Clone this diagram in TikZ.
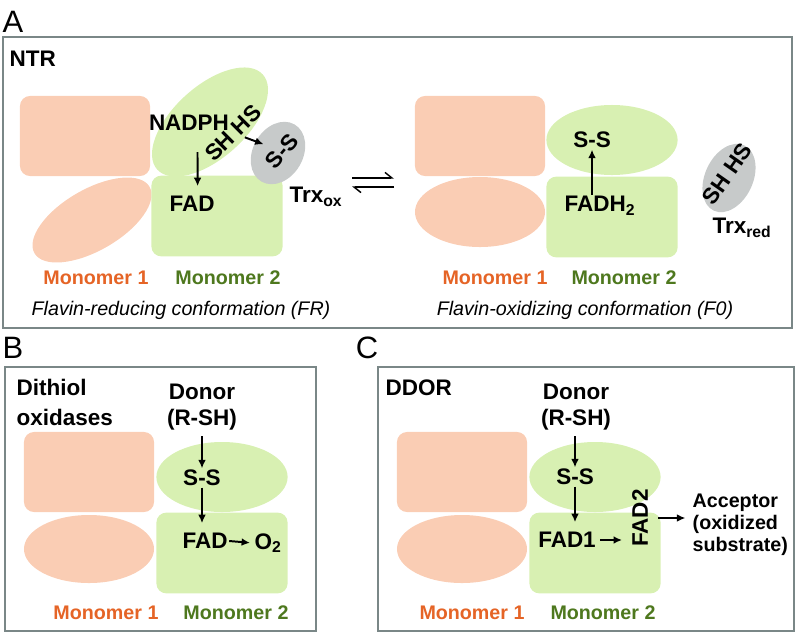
\documentclass[tikz,border=0pt]{standalone}
\usepackage{fontspec}
\setmainfont{Liberation Sans}
\usetikzlibrary{shapes.geometric,arrows.meta}

\definecolor{salmonfill}{RGB}{250,205,180}
\definecolor{leaffill}{RGB}{216,240,178}
\definecolor{trxgrey}{RGB}{199,202,202}
\definecolor{framegrey}{RGB}{122,135,135}
\definecolor{monoonecol}{RGB}{229,100,38}
\definecolor{monotwocol}{RGB}{78,120,30}

\begin{document}
\begin{tikzpicture}[x=0.025cm,y=-0.025cm]
    % Stili
    \tikzstyle{box}=[draw=framegrey, line width=2pt]
    \tikzstyle{panel}=[font=\fontsize{22}{24}\selectfont, inner sep=0pt]
    \tikzstyle{chem}=[font=\fontsize{16}{16}\selectfont\bfseries, inner sep=1pt]
    \tikzstyle{monoone}=[font=\fontsize{14}{16}\selectfont\bfseries, text=monoonecol]
    \tikzstyle{monotwo}=[font=\fontsize{14}{16}\selectfont\bfseries, text=monotwocol]
    \tikzstyle{conf}=[font=\fontsize{14}{16}\selectfont\itshape]
    \tikzstyle{subrect1}=[fill=salmonfill, rounded corners=0.25cm, minimum width=3.25cm, minimum height=2cm]
    \tikzstyle{subell1}=[ellipse, fill=salmonfill, minimum width=3.25cm, minimum height=1.75cm, inner sep=0pt]
    \tikzstyle{subrect2}=[fill=leaffill, rounded corners=0.25cm, minimum width=3.28cm, minimum height=2.02cm]
    \tikzstyle{subell2}=[ellipse, fill=leaffill, minimum width=3.28cm, minimum height=1.75cm, inner sep=0pt]
    \tikzstyle{trx}=[ellipse, fill=trxgrey, inner sep=0pt]
    \tikzstyle{reaction}=[-{Latex[length=6pt,width=5.5pt]}, line width=1.4pt]
    \tikzstyle{equil}=[-{Straight Barb[harpoon,length=5pt,width=8pt]}, line width=1pt]

    \useasboundingbox (0,0) rectangle (796,633);

    % Pannello A
    \node[panel] (lblA) at (13,22) {A};
    \draw[box] (3,37) rectangle (792,328);
    \node[chem, anchor=west] (ntr) at (8,59) {NTR};

    % Conformazione FR
    \node[subrect1] (m1rectFR) at (85,136) {};
    \node[subell1, rotate=30, minimum width=3.32cm, minimum height=1.53cm] (m1ellFR) at (92,220) {};
    \node[subell2, rotate=42, minimum width=3.55cm, minimum height=1.8cm] (m2ellFR) at (210,122) {};
    \node[subrect2] (m2rectFR) at (217,216) {};
    \node[trx, rotate=60, minimum width=1.65cm, minimum height=1.25cm] (trxoxell) at (278,153) {};

    \node[chem] (nadph) at (189,123) {NADPH};
    \node[chem, rotate=45] (shhsFR) at (233,133) {SH HS};
    \node[chem, rotate=50] (ssox) at (282,151) {S-S};
    \node[chem] (fadFR) at (192,204) {FAD};
    \node[chem] (trxox) at (316,197) {Trx\textsubscript{ox}};
    \node[monoone] (m1FR) at (96,278) {Monomer 1};
    \node[monotwo] (m2FR) at (228,278) {Monomer 2};
    \node[conf] (confFR) at (181,310) {Flavin-reducing conformation (FR)};

    \draw[reaction, shorten <=14pt, shorten >=6pt] ([xshift=6pt]nadph.south) -- ([xshift=4pt]fadFR.north);
    \draw[reaction, shorten <=9pt, shorten >=14pt] (shhsFR.center) -- (ssox.center);

    % Equilibrio
    \coordinate (eqL1) at (352,178);
    \coordinate (eqR1) at (394,178);
    \coordinate (eqL2) at (352,187);
    \coordinate (eqR2) at (394,187);
    \draw[equil] (eqL1) -- (eqR1);
    \draw[equil] (eqR2) -- (eqL2);

    % Conformazione FO
    \node[subrect1] (m1rectFO) at (480,136) {};
    \node[subell1] (m1ellFO) at (480,212) {};
    \node[subell2] (m2ellFO) at (612,140) {};
    \node[subrect2] (m2rectFO) at (612,217) {};
    \node[trx, rotate=65, minimum width=1.8cm, minimum height=1.2cm] (trxredell) at (729,178) {};

    \node[chem] (ssFO) at (592,140) {S-S};
    \node[chem] (fadhFO) at (600,206) {FADH\textsubscript{2}};
    \node[chem, rotate=55] (shhsFO) at (727,174) {SH HS};
    \node[chem] (trxred) at (742,228) {Trx\textsubscript{red}};
    \node[monoone] (m1FO) at (495,278) {Monomer 1};
    \node[monotwo] (m2FO) at (624,278) {Monomer 2};
    \node[conf] (confFO) at (585,310) {Flavin-oxidizing conformation (F0)};

    \draw[reaction] (fadhFO.north -| ssFO) -- (ssFO.south);

    % Pannello B
    \node[panel] (lblB) at (13,348) {B};
    \draw[box] (5,367) rectangle (316,631);
    \node[chem, align=left, anchor=north west] (dithiol) at (15,378) {Dithiol\\[5pt]oxidases};

    \node[subrect1] (m1rectB) at (89,472) {};
    \node[subell1, minimum height=1.7cm] (m1ellB) at (89,549) {};
    \node[subell2] (m2ellB) at (222,477) {};
    \node[subrect2] (m2rectB) at (222,553) {};

    \node[chem, align=center] (donorB) at (202,407) {Donor\\[3pt](R-SH)};
    \node[chem] (ssB) at (202,478) {S-S};
    \node[chem] (fadB) at (205,541) {FAD};
    \node[chem] (otwoB) at (268,543) {O\textsubscript{2}};
    \node[monoone] (m1B) at (106,613) {Monomer 1};
    \node[monotwo] (m2B) at (236,613) {Monomer 2};

    \draw[reaction, shorten <=3pt] (donorB.south -| ssB) -- (ssB.north);
    \draw[reaction, shorten >=6pt] (ssB.south) -- (ssB.south |- fadB.north);
    \draw[reaction, shorten >=2pt] (fadB.east) -- (otwoB.west);

    % Pannello C
    \node[panel] (lblC) at (367,348) {C};
    \draw[box] (378,367) rectangle (794,631);
    \node[chem, anchor=west] (ddor) at (384,388) {DDOR};

    \node[subrect1] (m1rectC) at (462,472) {};
    \node[subell1, minimum height=1.7cm] (m1ellC) at (462,549) {};
    \node[subell2] (m2ellC) at (595,477) {};
    \node[subrect2] (m2rectC) at (595,553) {};

    \node[chem, align=center] (donorC) at (576,407) {Donor\\[3pt](R-SH)};
    \node[chem] (ssC) at (575,477) {S-S};
    \node[chem] (fadoneC) at (567,540) {FAD1};
    \node[chem, rotate=90] (fadtwoC) at (640,518) {FAD2};
    \node[chem, font=\fontsize{14}{15.5}\selectfont\bfseries, align=left, anchor=west] (acceptC) at (691,525) {Acceptor\\(oxidized\\substrate)};
    \node[monoone] (m1C) at (472,613) {Monomer 1};
    \node[monotwo] (m2C) at (603,613) {Monomer 2};

    \draw[reaction, shorten <=3pt] (donorC.south -| ssC) -- (ssC.north);
    \draw[reaction, shorten >=6pt] (ssC.south) -- (ssC.south |- fadoneC.north);
    \draw[reaction, shorten <=2pt, shorten >=6pt] (fadoneC.east) -- (fadoneC.east -| fadtwoC.north);
    \draw[reaction, shorten <=6pt, shorten >=4pt] (fadtwoC.south) -- (fadtwoC.south -| acceptC.west);
\end{tikzpicture}
\end{document}
